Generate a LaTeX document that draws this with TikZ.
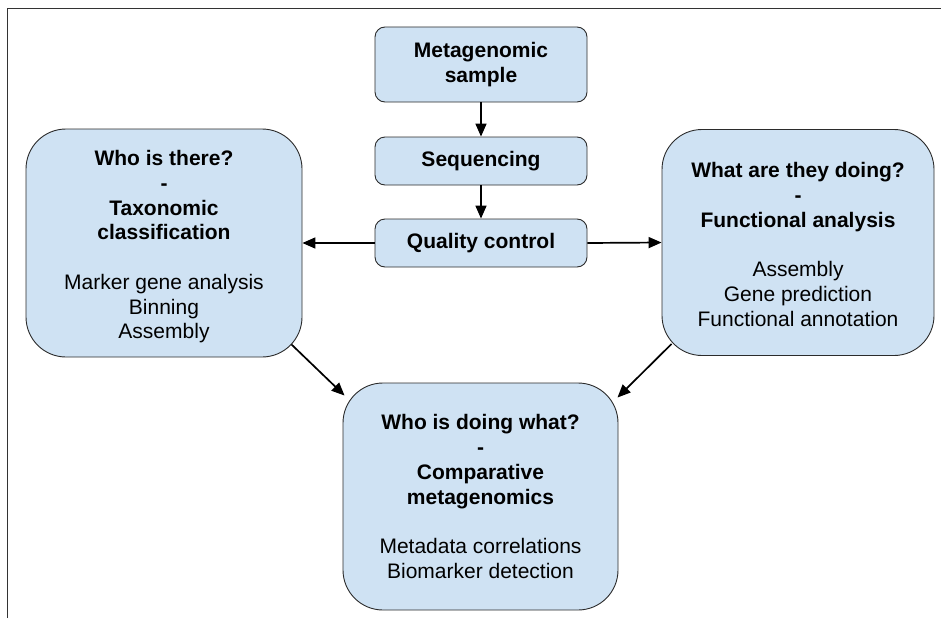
\documentclass[tikz,border=0pt]{standalone}
\usepackage{fontspec}
\setmainfont{Liberation Sans}
\usetikzlibrary{arrows.meta,calc}
\definecolor{boxfill}{HTML}{CFE2F3}
\definecolor{boxline}{HTML}{2B2B2B}
\definecolor{framecol}{HTML}{333333}
\begin{document}
\begin{tikzpicture}[x=1pt,y=-1pt,
  every node/.style={font=\fontsize{21}{24.7}\selectfont, text=black},
  box/.style={draw=boxline, line width=0.9pt, fill=boxfill, rectangle,
    align=center, inner sep=0pt},
  smallbox/.style={box, rounded corners=10pt, minimum width=212pt},
  bigbox/.style={box, rounded corners=40pt},
  flow/.style={line width=1.7pt, -{Triangle[length=13pt,width=11pt]}}]
  \useasboundingbox (0,0) rectangle (941,618);
  % partial outer frame
  \draw[framecol, line width=1pt] (7.5,618) -- (7.5,8.5) -- (941,8.5);

  % pipeline steps
  \node[smallbox, minimum height=75pt] (sample) at (481,64.5)
    {\textbf{Metagenomic}\\\textbf{sample}};
  \node[smallbox, minimum height=48pt] (seq) at (481,161)
    {\textbf{Sequencing}};
  \node[smallbox, minimum height=48pt] (qc) at (481,243)
    {\textbf{Quality control}};

  % analysis boxes
  \node[bigbox, minimum width=276pt, minimum height=228pt] (tax) at (164,243)
    {\rule{0pt}{23pt}\textbf{Who is there?}\\\textbf{-}\\\textbf{Taxonomic}\\\textbf{classification}\\[24.7pt]
     Marker gene analysis\\Binning\\Assembly};
  \node[bigbox, minimum width=272pt, minimum height=226pt] (func) at (798,242.5)
    {\rule{0pt}{19pt}\textbf{What are they doing?}\\\textbf{-}\\\textbf{Functional analysis}\\[24.7pt]
     Assembly\\Gene prediction\\Functional annotation};
  \node[bigbox, minimum width=275pt, minimum height=227pt] (comp) at (480.5,496.5)
    {\textbf{Who is doing what?}\\\textbf{-}\\\textbf{Comparative}\\\textbf{metagenomics}\\[24.7pt]
     Metadata correlations\\Biomarker detection};

  % connector end points on the rounded corners
  \coordinate (taxout) at ($(tax.south east)+(-11,-13)$);
  \coordinate (funcout) at ($(func.south west)+(10,-12)$);
  \coordinate (compinl) at ($(comp.north west)+(2,13)$);
  \coordinate (compinr) at ($(comp.north east)+(-1,15)$);

  % connectors
  \draw[flow] (sample.south) -- (seq.north);
  \draw[flow] (seq.south) -- (qc.north);
  \draw[flow] (qc.west) -- (tax.east);
  \draw[flow] (qc.east) -- (func.west);
  \draw[flow] (taxout) -- (compinl);
  \draw[flow] (funcout) -- (compinr);
\end{tikzpicture}
\end{document}
